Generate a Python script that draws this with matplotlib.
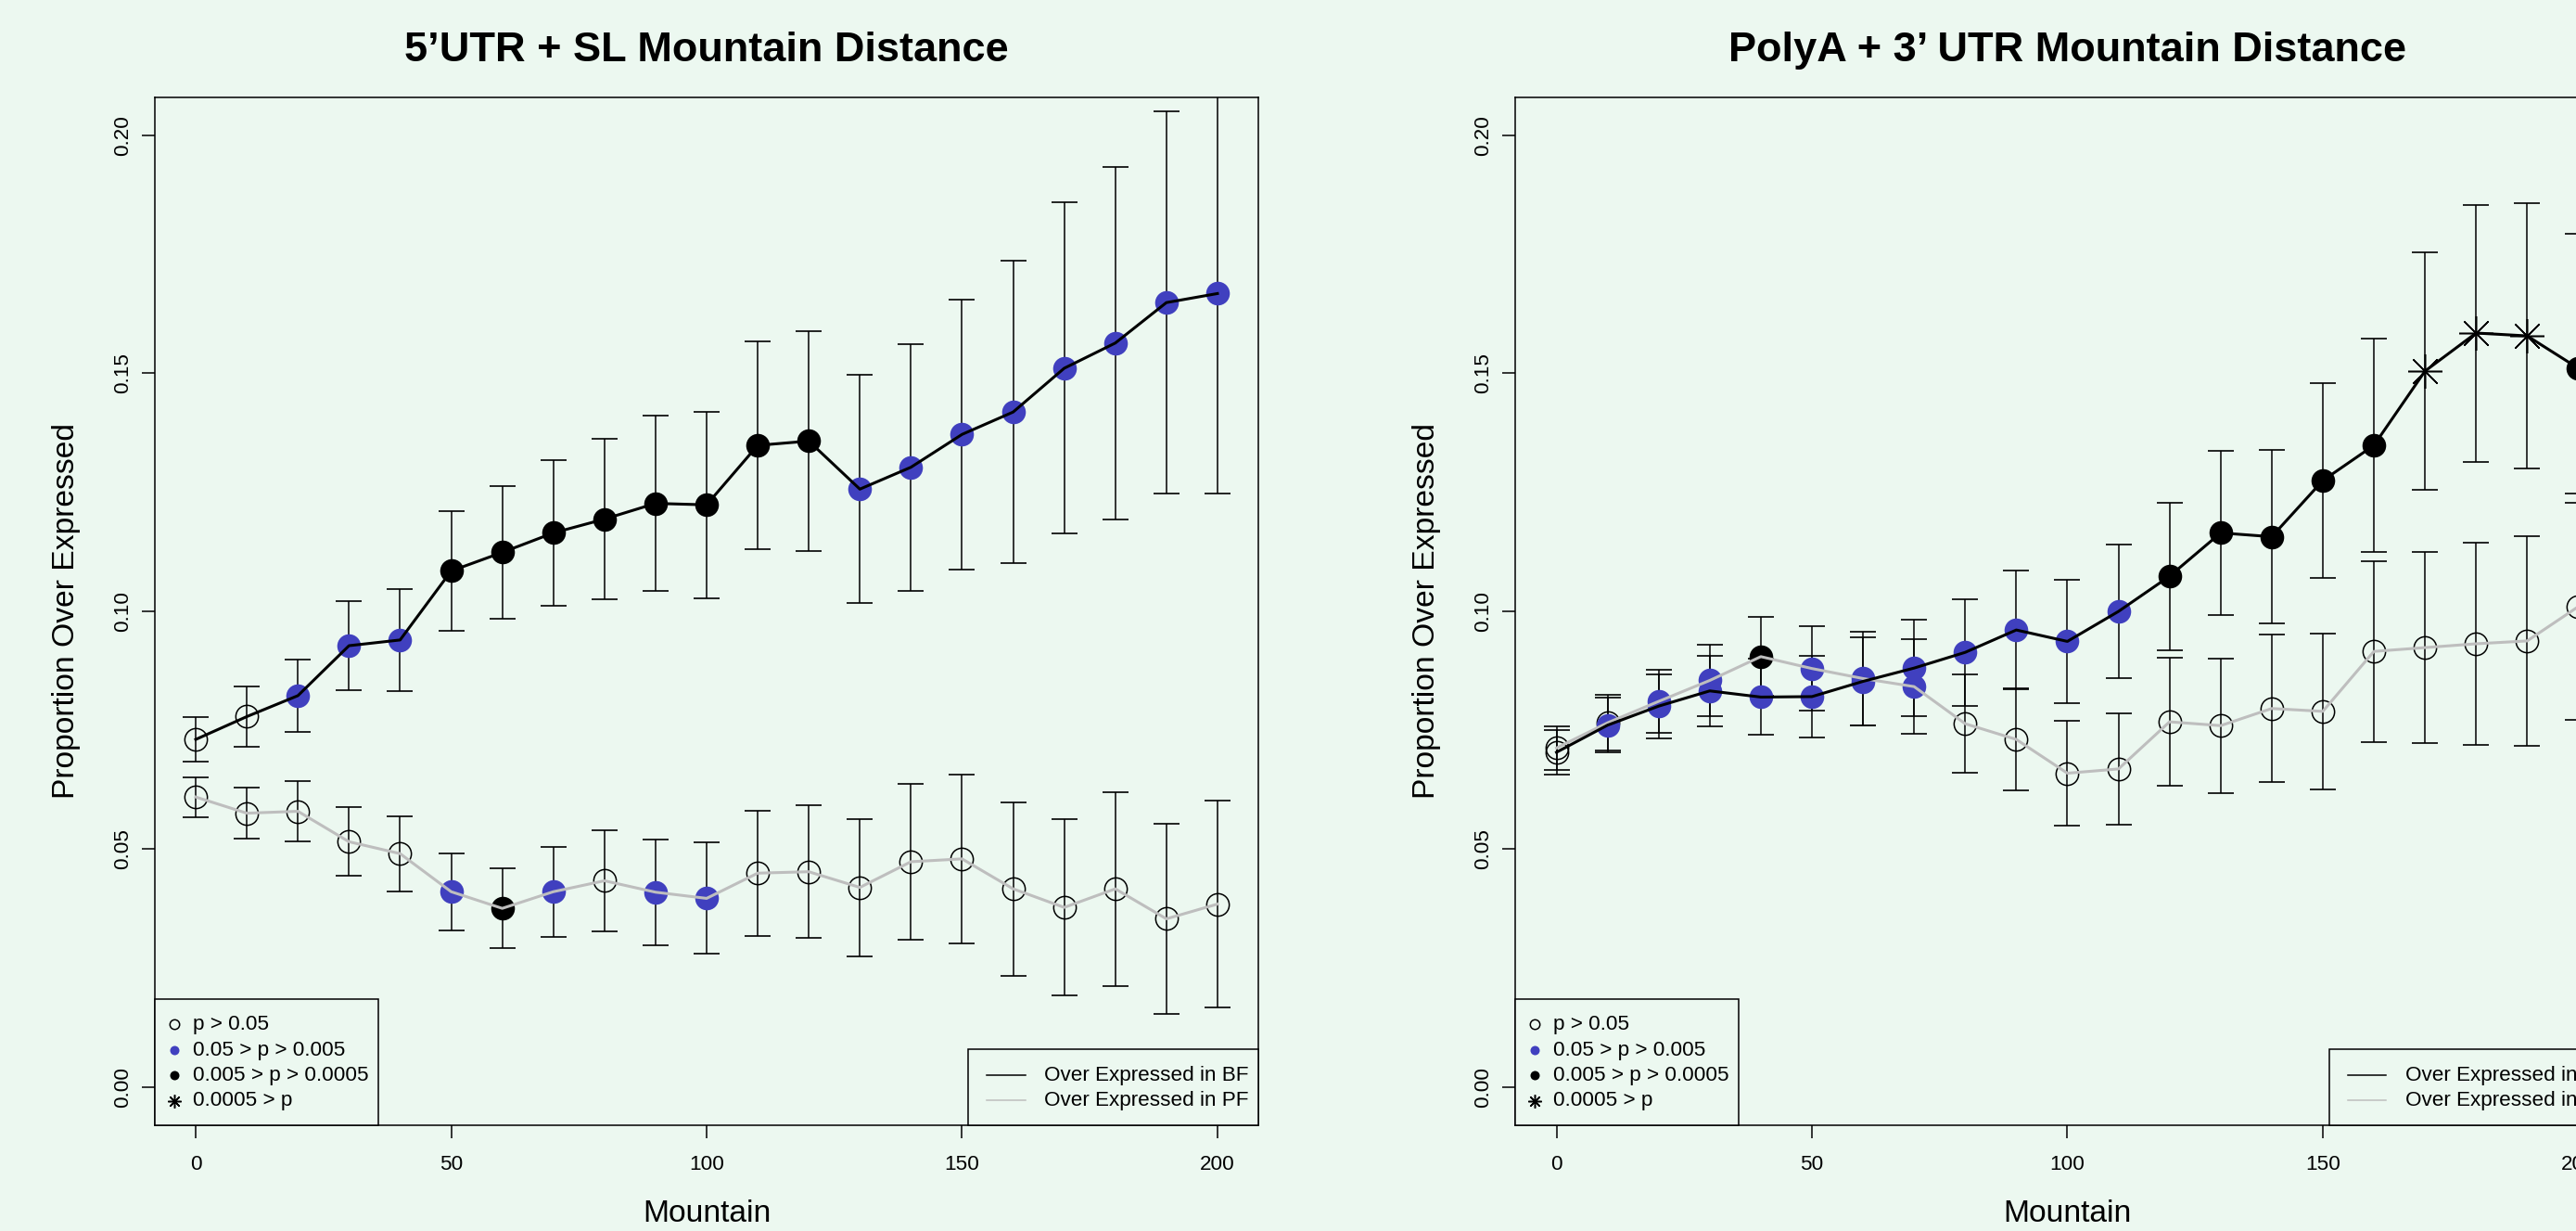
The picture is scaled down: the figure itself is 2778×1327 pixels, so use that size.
import matplotlib
matplotlib.use('Agg')
import matplotlib.pyplot as plt
from matplotlib.patches import Rectangle

plt.rcParams['font.family'] = ['Liberation Sans', 'DejaVu Sans']

BG = '#ECF8F0'
BLUE = '#4040BF'
GREY = '#BEBEBE'

# mountain distance (x)
mountain = [0, 10, 20, 30, 40, 50, 60, 70, 80, 90, 100,
            110, 120, 130, 140, 150, 160, 170, 180, 190, 200]

# significance class per point: 0 p>0.05, 1 0.05>p>0.005, 2 0.005>p>0.0005, 3 0.0005>p
# --- 5'UTR + SL ---
utr5_bf = [0.0730, 0.0778, 0.0822, 0.0927, 0.0939, 0.1084, 0.1123, 0.1164, 0.1193, 0.1226, 0.1223,
           0.1348, 0.1357, 0.1256, 0.1302, 0.1371, 0.1418, 0.1510, 0.1563, 0.1648, 0.1667]
utr5_bf_err = [0.0046, 0.0063, 0.0076, 0.0093, 0.0107, 0.0125, 0.0140, 0.0153, 0.0169, 0.0184, 0.0196,
               0.0219, 0.0231, 0.0240, 0.0259, 0.0284, 0.0318, 0.0348, 0.0370, 0.0402, 0.0421]
utr5_bf_sig = [0, 0, 1, 1, 1, 2, 2, 2, 2, 2, 2, 2, 2, 1, 1, 1, 1, 1, 1, 1, 1]
utr5_pf = [0.0609, 0.0575, 0.0579, 0.0515, 0.0490, 0.0410, 0.0375, 0.0410, 0.0433, 0.0409, 0.0396,
           0.0449, 0.0452, 0.0419, 0.0473, 0.0479, 0.0416, 0.0377, 0.0416, 0.0353, 0.0384]
utr5_pf_err = [0.0042, 0.0054, 0.0064, 0.0072, 0.0079, 0.0081, 0.0084, 0.0095, 0.0106, 0.0111, 0.0117,
               0.0132, 0.0139, 0.0144, 0.0164, 0.0177, 0.0182, 0.0185, 0.0204, 0.0200, 0.0218]
utr5_pf_sig = [0, 0, 0, 0, 0, 1, 2, 1, 0, 1, 1, 0, 0, 0, 0, 0, 0, 0, 0, 0, 0]

# --- PolyA + 3' UTR ---
utr3_bf = [0.0703, 0.0760, 0.0800, 0.0832, 0.0819, 0.0820, 0.0852, 0.0880, 0.0913, 0.0960, 0.0936,
           0.0999, 0.1073, 0.1164, 0.1156, 0.1274, 0.1348, 0.1504, 0.1584, 0.1578, 0.1510]
utr3_bf_err = [0.0046, 0.0058, 0.0067, 0.0074, 0.0080, 0.0086, 0.0093, 0.0102, 0.0112, 0.0124, 0.0129,
               0.0140, 0.0155, 0.0172, 0.0183, 0.0204, 0.0225, 0.0250, 0.0270, 0.0279, 0.0283]
utr3_bf_sig = [0, 1, 1, 1, 1, 1, 1, 1, 1, 1, 1, 1, 2, 2, 2, 2, 2, 3, 3, 3, 2]
utr3_pf = [0.0712, 0.0765, 0.0810, 0.0854, 0.0904, 0.0879, 0.0858, 0.0841, 0.0763, 0.0730, 0.0659,
           0.0668, 0.0767, 0.0759, 0.0795, 0.0789, 0.0915, 0.0923, 0.0931, 0.0937, 0.1009]
utr3_pf_err = [0.0046, 0.0058, 0.0067, 0.0075, 0.0083, 0.0089, 0.0098, 0.0100, 0.0103, 0.0108, 0.0110,
               0.0117, 0.0134, 0.0141, 0.0155, 0.0164, 0.0190, 0.0200, 0.0213, 0.0221, 0.0238]
utr3_pf_sig = [0, 0, 1, 1, 2, 1, 1, 1, 0, 0, 0, 0, 0, 0, 0, 0, 0, 0, 0, 0, 0]

sig_labels = ['p > 0.05', '0.05 > p > 0.005', '0.005 > p > 0.0005', '0.0005 > p']
line_labels = ['Over Expressed in BF', 'Over Expressed in PF']

MARK = {
    0: dict(marker='o', markerfacecolor='none', markeredgecolor='black', markeredgewidth=1.1),
    1: dict(marker='o', markerfacecolor=BLUE, markeredgecolor=BLUE, markeredgewidth=0),
    2: dict(marker='o', markerfacecolor='black', markeredgecolor='black', markeredgewidth=0),
    3: dict(marker=(8, 2, 0), markerfacecolor='none', markeredgecolor='black', markeredgewidth=1.1),
}
BIG = {0: 17.5, 1: 18.4, 2: 18.4, 3: 26.6}
SMALL = {0: 7.5, 1: 7.2, 2: 7.2, 3: 10.4}


def draw_series(ax, y, err, sig, color, z):
    ax.errorbar(mountain, y, yerr=err, fmt='none', ecolor='black', elinewidth=1.1,
                capsize=9.9, capthick=1.2, zorder=2)
    for cat in range(4):
        xs = [mountain[i] for i in range(len(y)) if sig[i] == cat]
        ys = [y[i] for i in range(len(y)) if sig[i] == cat]
        if xs:
            ax.plot(xs, ys, linestyle='none', markersize=BIG[cat], zorder=z, **MARK[cat])
    ax.plot(mountain, y, color=color, lw=2.2, zorder=z + 2)


def draw_panel(ax, title, bf, bf_err, bf_sig, pf, pf_err, pf_sig):
    ax.set_facecolor(BG)
    draw_series(ax, pf, pf_err, pf_sig, GREY, 3)
    draw_series(ax, bf, bf_err, bf_sig, 'black', 4)

    ax.set_xlim(-8, 208)
    ax.set_ylim(-0.008, 0.208)
    ax.set_xticks([0, 50, 100, 150, 200])
    ax.set_yticks([0, 0.05, 0.10, 0.15, 0.20], labels=['0.00', '0.05', '0.10', '0.15', '0.20'])
    for lab in ax.get_yticklabels():
        lab.set_rotation(90)
        lab.set_va('center')
    ax.tick_params(length=10, width=1.1, labelsize=16.2)
    ax.tick_params(axis='x', pad=13.3)
    ax.tick_params(axis='y', pad=7.2)
    for sp in ax.spines.values():
        sp.set_linewidth(1.1)

    ax.text(0.5, 1.0348, title, transform=ax.transAxes, ha='center', va='baseline',
            fontsize=32.5, fontweight='bold')
    ax.text(0.5, -0.0942, 'Mountain', transform=ax.transAxes, ha='center', va='baseline',
            fontsize=24.2)
    ax.text(-0.0735, 0.5, 'Proportion Over Expressed', transform=ax.transAxes, rotation=90,
            rotation_mode='anchor', ha='center', va='baseline', fontsize=24.2)

    # significance legend, bottom left
    ax.add_patch(Rectangle((0, 0), 0.2025, 0.1224, transform=ax.transAxes, facecolor=BG,
                           edgecolor='black', lw=1.1, zorder=10, clip_on=False))
    rows = [0.0977, 0.0727, 0.0483, 0.0233]
    for cat, (ry, lab) in enumerate(zip(rows, sig_labels)):
        ax.plot([0.0173], [ry], transform=ax.transAxes, linestyle='none',
                markersize=SMALL[cat], zorder=11, clip_on=False, **MARK[cat])
        ax.text(0.0343, ry, lab, transform=ax.transAxes, ha='left', va='center',
                fontsize=16.2, zorder=11)

    # line legend, bottom right
    ax.add_patch(Rectangle((0.7370, 0), 0.2630, 0.0736, transform=ax.transAxes, facecolor=BG,
                           edgecolor='black', lw=1.1, zorder=10, clip_on=False))
    for ry, lab, col in zip([0.0480, 0.0239], line_labels, ['black', GREY]):
        ax.plot([0.7538, 0.7887], [ry, ry], transform=ax.transAxes, color=col, lw=1.1,
                zorder=11, clip_on=False)
        ax.text(0.8059, ry, lab, transform=ax.transAxes, ha='left', va='center',
                fontsize=16.2, zorder=11, clip_on=False)


fig = plt.figure(figsize=(27.78, 13.27), dpi=100, facecolor=BG)
ax1 = fig.add_axes([0.06012, 0.0862, 0.42837, 0.8350])
ax2 = fig.add_axes([0.58837, 0.0862, 0.42837, 0.8350])

draw_panel(ax1, '5\u2019UTR + SL Mountain Distance',
           utr5_bf, utr5_bf_err, utr5_bf_sig, utr5_pf, utr5_pf_err, utr5_pf_sig)
draw_panel(ax2, 'PolyA + 3\u2019 UTR Mountain Distance',
           utr3_bf, utr3_bf_err, utr3_bf_sig, utr3_pf, utr3_pf_err, utr3_pf_sig)

fig.savefig('out.png', dpi=100, facecolor=BG)
